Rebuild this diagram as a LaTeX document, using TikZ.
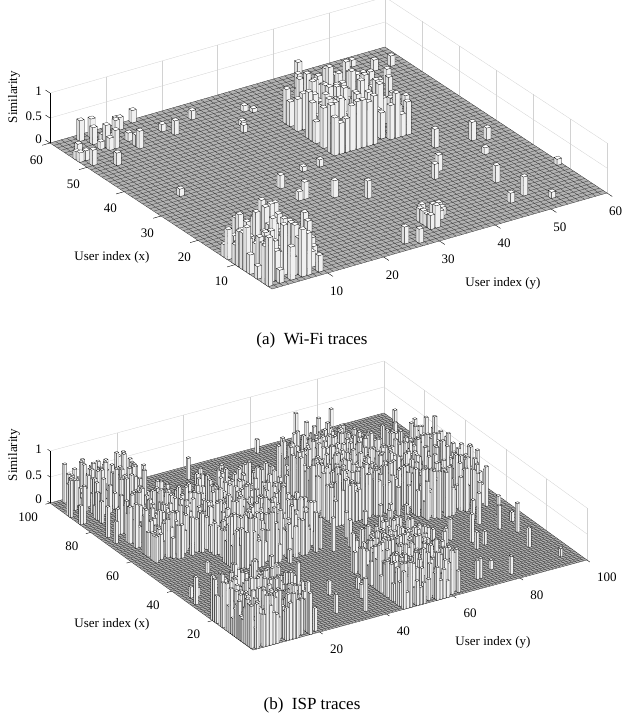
\documentclass[tikz,border=0pt]{standalone}
\usepackage{fontspec}
\setmainfont{Liberation Serif}
\tikzset{
  bartop/.style={fill=white,draw=black,line width=0.2pt,line join=round},
  barsidea/.style={fill=gray!12,draw=black,line width=0.2pt,line join=round},
  barsideb/.style={fill=gray!28,draw=black,line width=0.2pt,line join=round},
  floorfill/.style={fill=gray!60},
  floorgrid/.style={draw=black!85,line width=0.25pt},
  wallgrid/.style={draw=gray!35,line width=0.3pt},
  axisline/.style={draw=black,line width=0.4pt},
  ticklab/.style={font=\fontsize{13}{13}\selectfont,inner sep=0pt},
  axlab/.style={font=\fontsize{13}{13}\selectfont,inner sep=0pt},
  caplab/.style={font=\fontsize{17}{17}\selectfont,inner sep=0pt}
}
\newcommand\blk[7]{\ifnum\i>\numexpr#1-1\relax\ifnum\i<\numexpr#2+1\relax\ifnum\j>\numexpr#3-1\relax\ifnum\j<\numexpr#4+1\relax\def\pp{#5}\def\hmin{#6}\def\hr{#7}\fi\fi\fi\fi}
\newcommand\onebar{%
  \path[barsidea] (\i,\j,0) -- (\i,\j+.8,0) -- (\i,\j+.8,\h) -- (\i,\j,\h) -- cycle;
  \path[barsideb] (\i,\j,0) -- (\i+.8,\j,0) -- (\i+.8,\j,\h) -- (\i,\j,\h) -- cycle;
  \path[bartop] (\i,\j,\h) -- (\i+.8,\j,\h) -- (\i+.8,\j+.8,\h) -- (\i,\j+.8,\h) -- cycle;}
\newcommand\barfield[5]{% N, default p, hmin, hr, blocks
  \pgfmathtruncatemacro\Nm{#1-1}%
  \foreach \i in {\Nm,...,0}{\foreach \j in {\Nm,...,0}{%
    \def\pp{#2}\def\hmin{#3}\def\hr{#4}#5%
    \pgfmathsetmacro\r{rnd}%
    \ifdim\r pt<\pp pt \pgfmathsetmacro\h{\hmin+\hr*rnd}\onebar\fi}}}
\newcommand\plotbox[3]{% N, tick step, label step
  \foreach \t in {0,#2,...,#1}{
    \path[wallgrid] (#1,\t,0) -- (#1,\t,1);
    \path[wallgrid] (\t,#1,0) -- (\t,#1,1);}
  \foreach \zz in {0,0.5,1}{
    \path[wallgrid] (#1,0,\zz) -- (#1,#1,\zz) -- (0,#1,\zz);}
  \path[floorfill] (0,0,0) -- (#1,0,0) -- (#1,#1,0) -- (0,#1,0) -- cycle;
  \foreach \k in {0,...,#1}{
    \path[floorgrid] (\k,0,0) -- (\k,#1,0);
    \path[floorgrid] (0,\k,0) -- (#1,\k,0);}
  \path[axisline] (#1,0,0) -- (#1,0,1);
  \foreach \zz in {0,0.5,1}{\path[axisline] (#1,0,\zz) -- (#1+1.2,0,\zz);}
  \foreach \t in {#2,#3,...,#1}{
    \path[axisline] (\t,0,0) -- (\t,-1.4,0);
    \path[axisline] (0,\t,0) -- (-1.4,\t,0);}
}
\begin{document}
\begin{tikzpicture}[x=1pt,y=-1pt]
\useasboundingbox (0,0) rectangle (624,716);
\fill[white] (0,0) rectangle (624,716);
% ---------- panel (a)
\pgfmathsetseed{11}
\begin{scope}[shift={(272,289)},x={(-3.7pt,2.433pt)},y={(5.583pt,1.6pt)},z={(0pt,50pt)}]
  \plotbox{60}{10}{20}
  \barfield{60}{0.012}{0.08}{0.3}{%
    \blk{33}{46}{33}{46}{0.7}{0.4}{0.6}%
    \blk{1}{13}{0}{9}{0.7}{0.25}{0.75}%
    \blk{4}{8}{31}{36}{0.35}{0.15}{0.3}%
    \blk{50}{59}{0}{14}{0.1}{0.15}{0.3}}
  \coordinate (ax0) at (60,0,0);
  \coordinate (ax05) at (60,0,0.5);
  \coordinate (ax1) at (60,0,1);
  \foreach \t in {10,20,...,60}{
    \coordinate (xa\t) at (\t,0,0);
    \coordinate (ya\t) at (0,\t,0);}
\end{scope}
\foreach \t in {10,20,...,60}{
  \node[ticklab,anchor=east] (xl\t) at ([shift={(-7,17)}]xa\t) {\t};
  \node[ticklab,anchor=west] (yl\t) at ([shift={(2,18)}]ya\t) {\t};}
\node[ticklab,anchor=east] (z0a) at ([shift={(-8,-4)}]ax0) {0};
\node[ticklab,anchor=east] (z05a) at ([shift={(-8,-2)}]ax05) {0.5};
\node[ticklab,anchor=east] (z1a) at ([shift={(-8,-2)}]ax1) {1};
\node[axlab,rotate=90] (sima) at (14,97) {Similarity};
\node[axlab] (uxa) at (112,257) {User index (x)};
\node[axlab] (uya) at (503,283) {User index (y)};
\node[caplab] (capa) at (312,340) {(a)\hspace{0.5em}Wi-Fi traces};
% ---------- panel (b)
\pgfmathsetseed{5}
\begin{scope}[shift={(253,650)},x={(-2.03pt,1.47pt)},y={(3.34pt,0.9pt)},z={(0pt,52pt)}]
  \plotbox{100}{20}{40}
  \barfield{100}{0.012}{0.15}{0.5}{%
    \blk{0}{20}{0}{17}{0.8}{0.3}{0.7}%
    \blk{0}{25}{45}{62}{0.7}{0.3}{0.6}%
    \blk{50}{78}{55}{75}{0.65}{0.4}{0.6}%
    \blk{40}{70}{76}{95}{0.45}{0.3}{0.7}%
    \blk{40}{70}{20}{45}{0.5}{0.3}{0.7}%
    \blk{55}{75}{5}{19}{0.45}{0.3}{0.6}%
    \blk{85}{99}{0}{20}{0.3}{0.25}{0.5}}
  \coordinate (bx0) at (100,0,0);
  \coordinate (bx05) at (100,0,0.5);
  \coordinate (bx1) at (100,0,1);
  \foreach \t in {20,40,...,100}{
    \coordinate (xb\t) at (\t,0,0);
    \coordinate (yb\t) at (0,\t,0);}
\end{scope}
\foreach \t in {20,40,...,100}{
  \node[ticklab,anchor=east] (xlb\t) at ([shift={(-12,14)}]xb\t) {\t};
  \node[ticklab,anchor=west] (ylb\t) at ([shift={(10,17)}]yb\t) {\t};}
\node[ticklab,anchor=east] (z0b) at ([shift={(-8,-4)}]bx0) {0};
\node[ticklab,anchor=east] (z05b) at ([shift={(-8,-2)}]bx05) {0.5};
\node[ticklab,anchor=east] (z1b) at ([shift={(-8,-2)}]bx1) {1};
\node[axlab,rotate=90] (simb) at (14,455) {Similarity};
\node[axlab] (uxb) at (112,624) {User index (x)};
\node[axlab] (uyb) at (493,642) {User index (y)};
\node[caplab] (capb) at (312,705) {(b)\hspace{0.5em}ISP traces};
\end{tikzpicture}
\end{document}
